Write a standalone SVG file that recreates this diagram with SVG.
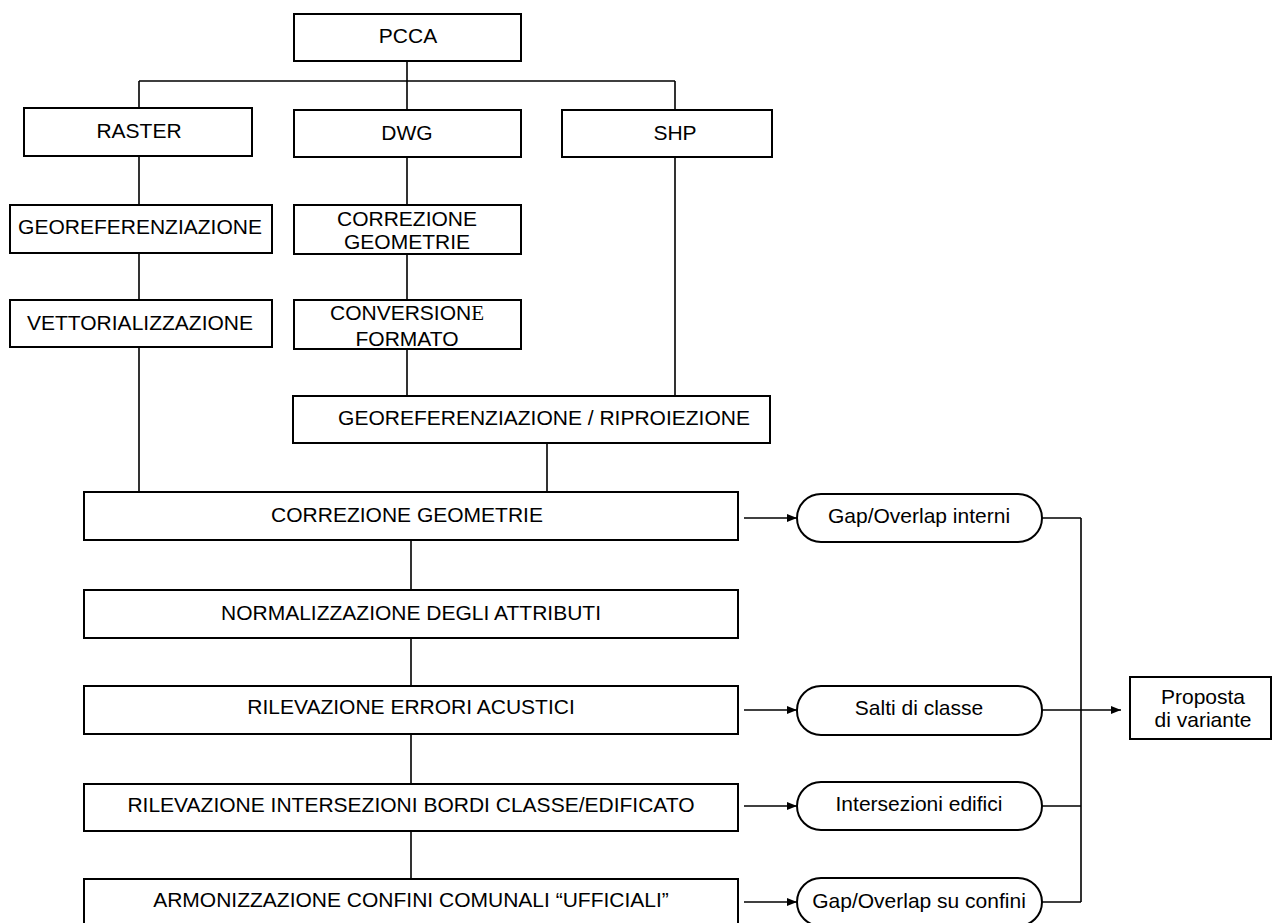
<svg xmlns="http://www.w3.org/2000/svg" width="1272" height="923" viewBox="0 0 1272 923">
<defs>
<style>
.box{fill:#fff;stroke:#000;stroke-width:2}
.pill{fill:#fff;stroke:#000;stroke-width:2}
.t{font-family:"Liberation Sans",Arial,sans-serif;font-size:21px;fill:#000;text-anchor:middle}
.ln{fill:none;stroke:#000;stroke-width:1.6}
</style>
<marker id="ah" viewBox="0 0 10 8" refX="10" refY="4" markerWidth="10" markerHeight="8" markerUnits="userSpaceOnUse" orient="auto">
<path d="M0,0 L10,4 L0,8 z" fill="#000"/>
</marker>
</defs>
<rect width="1272" height="923" fill="#fff"/>
<g id="connectors">
<path class="ln" d="M407,61 V110 M139,81 H675 M139,81 V108 M675,81 V110"/>
<path class="ln" d="M139,156 V205 M139,253 V300 M139,347 V492"/>
<path class="ln" d="M407,157 V205 M407,254 V300 M407,349 V396 M675,157 V396 M547,443 V492"/>
<path class="ln" d="M411,540 V590 M411,638 V686 M411,734 V784 M411,831 V879"/>
<path class="ln" marker-end="url(#ah)" d="M744,518 H797"/>
<path class="ln" marker-end="url(#ah)" d="M744,710 H797"/>
<path class="ln" marker-end="url(#ah)" d="M744,806 H797"/>
<path class="ln" marker-end="url(#ah)" d="M744,902 H797"/>
<path class="ln" d="M1042,518 H1081 M1042,710 H1081 M1042,806 H1081 M1042,902 H1081 M1081,518 V902"/>
<path class="ln" stroke-width="2.2" marker-end="url(#ah)" d="M1081,710 H1121"/>
</g>
<g id="pcca"><rect class="box" x="294" y="14" width="227" height="47"/><text class="t" x="408" y="43">PCCA</text></g>
<g id="raster"><rect class="box" x="24" y="108" width="228" height="48"/><text class="t" x="139" y="138">RASTER</text></g>
<g id="dwg"><rect class="box" x="294" y="110" width="227" height="47"/><text class="t" x="407" y="140">DWG</text></g>
<g id="shp"><rect class="box" x="562" y="110" width="210" height="47"/><text class="t" x="675" y="140">SHP</text></g>
<g id="georef"><rect class="box" x="10" y="205" width="262" height="48"/><text class="t" x="140" y="234">GEOREFERENZIAZIONE</text></g>
<g id="vettor"><rect class="box" x="10" y="300" width="262" height="47"/><text class="t" x="140" y="330">VETTORIALIZZAZIONE</text></g>
<g id="corr-dwg"><rect class="box" x="294" y="205" width="227" height="49"/><text class="t" x="407" y="226">CORREZIONE</text><text class="t" x="407" y="249">GEOMETRIE</text></g>
<g id="conv"><rect class="box" x="294" y="300" width="227" height="49"/><text class="t" x="407" y="320">CONVERSION<tspan font-family="Liberation Serif,serif">E</tspan></text><text class="t" x="407" y="346">FORMATO</text></g>
<g id="georef-rip"><rect class="box" x="293" y="396" width="477" height="47"/><text class="t" x="544" y="425">GEOREFERENZIAZIONE / RIPROIEZIONE</text></g>
<g id="corr-geom"><rect class="box" x="84" y="492" width="654" height="48"/><text class="t" x="407" y="522">CORREZIONE GEOMETRIE</text></g>
<g id="norm"><rect class="box" x="84" y="590" width="654" height="48"/><text class="t" x="411" y="620">NORMALIZZAZIONE DEGLI ATTRIBUTI</text></g>
<g id="ril-err"><rect class="box" x="84" y="686" width="654" height="48"/><text class="t" x="411" y="714">RILEVAZIONE ERRORI ACUSTICI</text></g>
<g id="ril-int"><rect class="box" x="84" y="784" width="654" height="47"/><text class="t" x="411" y="812">RILEVAZIONE INTERSEZIONI BORDI CLASSE/EDIFICATO</text></g>
<g id="armon"><rect class="box" x="84" y="879" width="654" height="48"/><text class="t" x="411" y="907">ARMONIZZAZIONE CONFINI COMUNALI “UFFICIALI”</text></g>
<g id="gap-int"><rect class="pill" x="797" y="494" width="245" height="48" rx="24"/><text class="t" x="919" y="523">Gap/Overlap interni</text></g>
<g id="salti"><rect class="pill" x="797" y="686" width="245" height="49" rx="24"/><text class="t" x="919" y="715">Salti di classe</text></g>
<g id="inters"><rect class="pill" x="797" y="782" width="245" height="48" rx="24"/><text class="t" x="919" y="811">Intersezioni edifici</text></g>
<g id="gap-conf"><rect class="pill" x="797" y="878" width="245" height="48" rx="24"/><text class="t" x="919" y="908">Gap/Overlap su confini</text></g>
<g id="proposta"><rect class="box" x="1130" y="677" width="141" height="62"/><text class="t" x="1203" y="704">Proposta</text><text class="t" x="1203" y="727">di variante</text></g>
</svg>
